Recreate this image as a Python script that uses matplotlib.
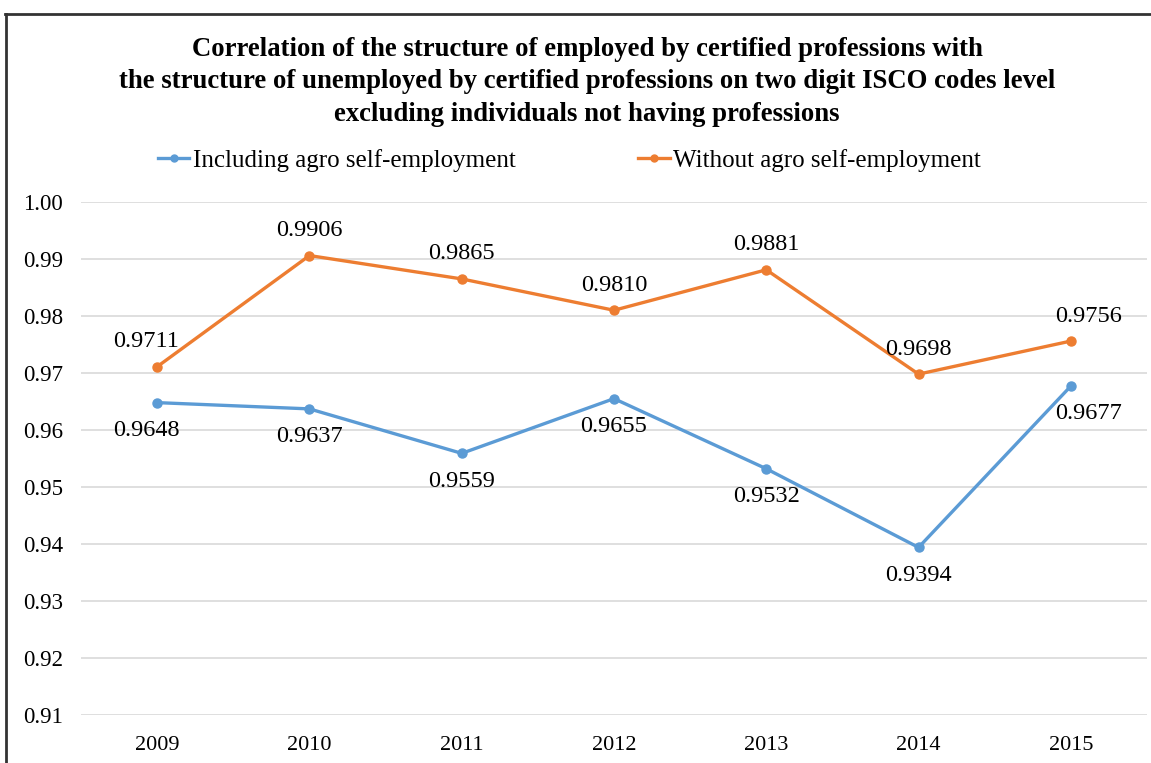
import matplotlib
matplotlib.use("Agg")
import matplotlib.pyplot as plt
from matplotlib.lines import Line2D

# Data
years = ["2009", "2010", "2011", "2012", "2013", "2014", "2015"]
including_agro = [0.9648, 0.9637, 0.9559, 0.9655, 0.9532, 0.9394, 0.9677]
without_agro = [0.9711, 0.9906, 0.9865, 0.9810, 0.9881, 0.9698, 0.9756]
y_ticks = [0.91, 0.92, 0.93, 0.94, 0.95, 0.96, 0.97, 0.98, 0.99, 1.00]

title = ("Correlation of the structure of employed by certified professions with\n"
         "the structure of unemployed by certified professions on two digit ISCO codes level\n"
         "excluding individuals not having professions")

blue = "#5B9BD5"
orange = "#ED7D31"

plt.rcParams["font.family"] = ["Liberation Serif", "DejaVu Serif"]

fig = plt.figure(figsize=(11.51, 7.63), dpi=100)
ax = fig.add_axes([0.0704, 0.0629, 0.9261, 0.6724])

x = range(len(years))
ax.plot(x, including_agro, color=blue, lw=2.4, marker="o", ms=6.5, label="Including agro self-employment")
ax.plot(x, without_agro, color=orange, lw=2.4, marker="o", ms=6.5, label="Without agro self-employment")

# data labels: orange above, blue below, edge labels nudged outwards
n = len(years)
for i in x:
    dx = -8 if i == 0 else (13 if i == n - 1 else 0)
    ax.annotate("{:.4f}".format(without_agro[i]), (i, without_agro[i]), xytext=(dx, 18),
                textcoords="offset points", ha="center", va="center", fontsize=17.5)
    ax.annotate("{:.4f}".format(including_agro[i]), (i, including_agro[i]), xytext=(dx, -20),
                textcoords="offset points", ha="center", va="center", fontsize=17.5)

ax.set_xlim(-0.5, n - 0.5)
ax.set_ylim(0.91, 1.00)
ax.set_xticks(list(x))
ax.set_xticklabels(years, fontsize=16)
ax.set_yticks(y_ticks)
ax.set_yticklabels(["{:.2f}".format(v) for v in y_ticks], fontsize=16.5)
ax.tick_params(length=0, pad=13)
ax.tick_params(axis="x", pad=15)
ax.grid(axis="y", color="#D9D9D9", lw=1.2)
ax.set_axisbelow(True)
for s in ax.spines.values():
    s.set_visible(False)

fig.text(0.51, 0.893, title, ha="center", va="center", fontsize=19.3, fontweight="bold",
         linespacing=1.39)

handles = [Line2D([], [], color=blue, lw=2.4, marker="o", ms=5),
           Line2D([], [], color=orange, lw=2.4, marker="o", ms=5)]
fig.legend(handles, ["Including agro self-employment", "Without agro self-employment"],
           loc="center", bbox_to_anchor=(0.495, 0.79), ncol=2, frameon=False,
           fontsize=18, handlelength=1.25, handletextpad=0.15, columnspacing=4.9)

# outer frame (cropped chart border)
fig.add_artist(Line2D([0.0045, 1.0], [0.9815, 0.9815], color="#333333", lw=2))
fig.add_artist(Line2D([0.0055, 0.0055], [0.0, 0.9815], color="#333333", lw=2))

fig.savefig("out.png", dpi=100)
